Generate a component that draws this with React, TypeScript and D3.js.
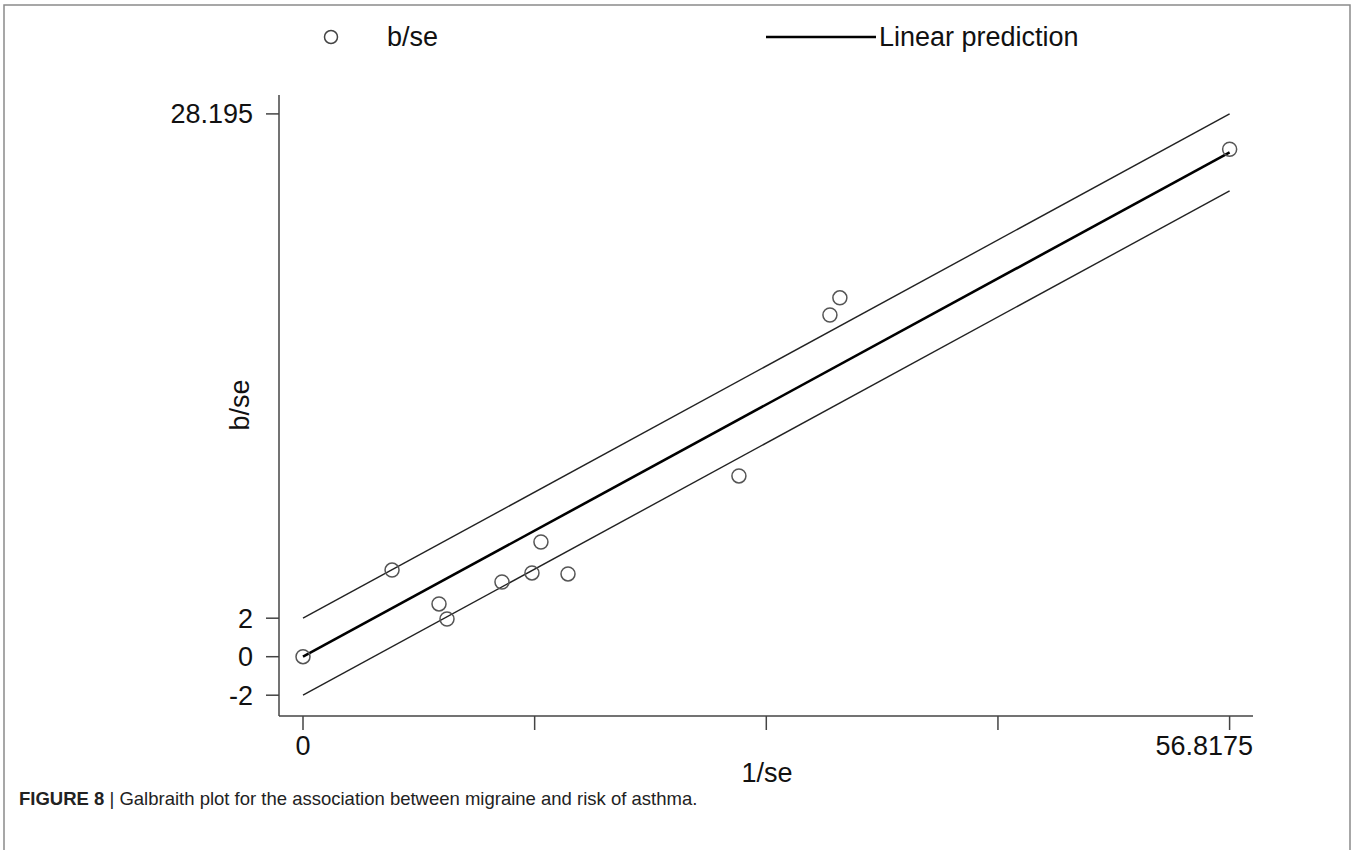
import React from "react";
import * as d3 from "d3";

// ---- data ----
const invSE = [0, 5.46, 8.34, 8.83, 12.2, 14.04, 14.59, 16.25, 26.73, 32.31, 32.92, 56.82];
const bSE = [0, 4.5, 2.74, 1.96, 3.88, 4.35, 5.96, 4.3, 9.39, 17.75, 18.64, 26.36];
const fitX = [0, 56.8175];
const fitY = [0, 26.195];
const bandOffsets = [2, -2];
const yTicks = [-2, 0, 2, 28.195];
const yTickLabels = ["-2", "0", "2", "28.195"];
const xTicks = [0, 14.2044, 28.4088, 42.6131, 56.8175];
const xTickLabels = ["0", "", "", "", "56.8175"];

const W = 1354;
const H = 850;
const FONT = "'Liberation Sans', Arial, Helvetica, sans-serif";

export default function App() {
  const x = d3.scaleLinear().domain([0, 56.8175]).range([303, 1229.6]);
  const y = d3.scaleLinear().domain([0, 28.195]).range([656.7, 113.9]);

  const axisLeft = 279;
  const axisBottom = 716;
  const axisTop = 95;
  const axisRight = 1253;

  const line = d3
    .line<[number, number]>()
    .x((d) => x(d[0]))
    .y((d) => y(d[1]));

  const fitPts: [number, number][] = fitX.map((v, i) => [v, fitY[i]]);

  return (
    <svg
      width={W}
      height={H}
      style={{ position: "fixed", left: 0, top: 0, background: "#fff" }}
      fontFamily={FONT}
    >
      <rect x={0} y={0} width={W} height={H} fill="#fff" />
      {/* outer frame */}
      <rect x={4} y={5} width={1346} height={860} fill="none" stroke="#8a8a8a" strokeWidth={1.5} />

      {/* legend */}
      <circle cx={331} cy={37} r={6.5} fill="none" stroke="#444" strokeWidth={1.5} />
      <text x={387} y={46} fontSize={27} fill="#111">b/se</text>
      <line x1={766} x2={876} y1={37} y2={37} stroke="#000" strokeWidth={2.5} />
      <text x={879} y={46} fontSize={27} fill="#111">Linear prediction</text>

      {/* axes */}
      <line x1={axisLeft} x2={axisLeft} y1={axisTop} y2={axisBottom} stroke="#444" strokeWidth={1.5} />
      <line x1={axisLeft} x2={axisRight} y1={axisBottom} y2={axisBottom} stroke="#444" strokeWidth={1.5} />
      {yTicks.map((t, i) => (
        <g key={"yt" + i}>
          <line x1={axisLeft - 13} x2={axisLeft} y1={y(t)} y2={y(t)} stroke="#444" strokeWidth={1.5} />
          <text x={253} y={y(t) + 9.5} fontSize={27} textAnchor="end" fill="#111">
            {yTickLabels[i]}
          </text>
        </g>
      ))}
      {xTicks.map((t, i) => (
        <g key={"xt" + i}>
          <line x1={x(t)} x2={x(t)} y1={axisBottom} y2={axisBottom + 14} stroke="#444" strokeWidth={1.5} />
          {xTickLabels[i] !== "" && (
            <text
              x={i === xTicks.length - 1 ? axisRight : x(t)}
              y={755}
              fontSize={27}
              textAnchor={i === xTicks.length - 1 ? "end" : "middle"}
              fill="#111"
            >
              {xTickLabels[i]}
            </text>
          )}
        </g>
      ))}
      <text x={767} y={782} fontSize={27} textAnchor="middle" fill="#111">1/se</text>
      <text
        transform={`translate(249,405) rotate(-90)`}
        fontSize={27}
        textAnchor="middle"
        fill="#111"
      >
        b/se
      </text>

      {/* confidence band lines */}
      {bandOffsets.map((o, i) => (
        <path
          key={"b" + i}
          d={line(fitPts.map((p) => [p[0], p[1] + o] as [number, number])) || ""}
          fill="none"
          stroke="#222"
          strokeWidth={1.4}
        />
      ))}
      {/* fit line */}
      <path d={line(fitPts) || ""} fill="none" stroke="#000" strokeWidth={2.6} />

      {/* points */}
      {invSE.map((v, i) => (
        <circle key={"p" + i} cx={x(v)} cy={y(bSE[i])} r={7} fill="none" stroke="#555" strokeWidth={1.5} />
      ))}

      {/* caption */}
      <text x={19} y={805} fontSize={18.5} fill="#222">
        <tspan fontWeight="bold">FIGURE 8</tspan>
        <tspan> | </tspan>
        <tspan>Galbraith plot for the association between migraine and risk of asthma.</tspan>
      </text>
    </svg>
  );
}
